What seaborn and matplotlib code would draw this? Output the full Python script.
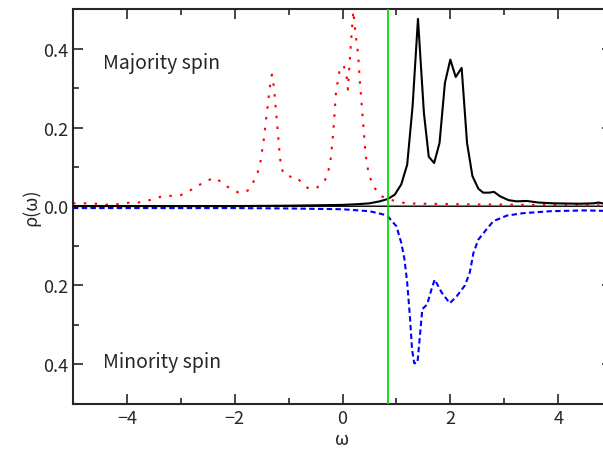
import numpy as np
import pandas as pd
import matplotlib
matplotlib.use('Agg')
from matplotlib import pyplot as plt
import matplotlib.ticker as ticker
import seaborn as sns

# majority spin, dotted red curve
omega_red = [-5.0, -4.89, -4.73, -4.57, -4.42, -4.26, -4.11, -3.94, -3.79, -3.63, -3.48,
             -3.32, -3.17, -3.0, -2.86, -2.70, -2.55, -2.44, -2.34, -2.19, -2.05, -1.92,
             -1.76, -1.66, -1.58, -1.52, -1.46, -1.40, -1.35, -1.31, -1.27, -1.22, -1.17,
             -1.14, -1.08, -0.95, -0.86, -0.75, -0.63, -0.48, -0.35, -0.28, -0.22, -0.17,
             -0.12, -0.06, -0.02, 0.02, 0.07, 0.10, 0.12, 0.16, 0.20, 0.24, 0.29, 0.32,
             0.36, 0.39, 0.43, 0.48, 0.52, 0.60, 0.72, 0.87, 1.03, 1.18, 1.5, 2.0, 2.5,
             3.0, 3.5, 4.0, 4.5, 4.85]
rho_red = [0.008, 0.008, 0.008, 0.007, 0.005, 0.004, 0.007, 0.010, 0.010, 0.014, 0.020,
           0.027, 0.027, 0.029, 0.037, 0.053, 0.060, 0.070, 0.072, 0.053, 0.045, 0.034,
           0.040, 0.060, 0.083, 0.115, 0.170, 0.240, 0.300, 0.334, 0.300, 0.220, 0.140,
           0.100, 0.080, 0.075, 0.075, 0.060, 0.045, 0.047, 0.062, 0.077, 0.120, 0.190,
           0.290, 0.340, 0.355, 0.357, 0.337, 0.296, 0.340, 0.420, 0.495, 0.440, 0.385,
           0.320, 0.250, 0.200, 0.130, 0.087, 0.070, 0.046, 0.026, 0.018, 0.012, 0.008,
           0.007, 0.006, 0.005, 0.005, 0.004, 0.004, 0.003, 0.003]

# majority spin, solid black curve
omega_black = [-5.0, -3.0, -2.0, -1.0, 0.0, 0.3, 0.5, 0.69, 0.84, 0.97, 1.09, 1.20, 1.30,
               1.40, 1.51, 1.60, 1.70, 1.80, 1.90, 2.00, 2.10, 2.21, 2.31, 2.41, 2.52,
               2.61, 2.72, 2.81, 2.92, 3.08, 3.23, 3.42, 3.63, 3.91, 4.41, 4.66, 4.75, 4.85]
rho_black = [0.001, 0.001, 0.001, 0.002, 0.004, 0.006, 0.008, 0.013, 0.019, 0.030, 0.056,
             0.106, 0.254, 0.475, 0.237, 0.126, 0.110, 0.161, 0.313, 0.372, 0.328, 0.351,
             0.161, 0.077, 0.045, 0.035, 0.035, 0.037, 0.026, 0.016, 0.013, 0.014, 0.010,
             0.008, 0.007, 0.008, 0.010, 0.007]

# minority spin, dashed blue curve (drawn downward)
omega_blue = [-5.0, -3.0, -2.0, -1.0, 0.0, 0.5, 0.75, 0.84, 1.00, 1.09, 1.15, 1.20, 1.25,
              1.29, 1.33, 1.39, 1.43, 1.48, 1.57, 1.65, 1.71, 1.84, 1.99, 2.12, 2.27,
              2.36, 2.43, 2.52, 2.67, 2.80, 3.05, 3.35, 3.85, 4.47, 4.85]
rho_blue = [-0.004, -0.004, -0.004, -0.005, -0.007, -0.012, -0.020, -0.025, -0.050, -0.092,
            -0.134, -0.193, -0.278, -0.362, -0.397, -0.396, -0.337, -0.260, -0.248, -0.210,
            -0.185, -0.218, -0.245, -0.227, -0.200, -0.168, -0.117, -0.084, -0.058, -0.037,
            -0.023, -0.017, -0.012, -0.010, -0.011]

fermi_level = 0.84

sns.set_style('ticks')
plt.rcParams['font.family'] = ['Noto Sans CJK JP', 'DejaVu Sans']
plt.rcParams['axes.unicode_minus'] = True

fig = plt.figure(figsize=(6.03, 4.56), dpi=100)
ax = fig.add_axes([0.121, 0.112, 0.894, 0.866])

ax.axhline(0.0, color='#808080', linewidth=1.5, zorder=1)
ax.axhline(0.0, color='black', linewidth=0.6, zorder=1)

red = pd.DataFrame({'omega': omega_red, 'rho': rho_red})
black = pd.DataFrame({'omega': omega_black, 'rho': rho_black})
blue = pd.DataFrame({'omega': omega_blue, 'rho': rho_blue})

sns.lineplot(data=black, x='omega', y='rho', ax=ax, color='black', linewidth=1.5,
             estimator=None, sort=False, zorder=3)
sns.lineplot(data=red, x='omega', y='rho', ax=ax, color='red', linewidth=1.5,
             estimator=None, sort=False, zorder=2)
ax.get_lines()[-1].set_dashes([1.2, 4.0])
sns.lineplot(data=blue, x='omega', y='rho', ax=ax, color='blue', linewidth=1.5,
             estimator=None, sort=False, zorder=2)
ax.get_lines()[-1].set_dashes([2.6, 1.6])

ax.axvline(fermi_level, color='#00e000', linewidth=1.3, zorder=4)

ax.set_xlim(-5.0, 5.0)
ax.set_ylim(-0.5, 0.5)
ax.xaxis.set_major_locator(ticker.MultipleLocator(2))
ax.xaxis.set_minor_locator(ticker.MultipleLocator(1))
ax.yaxis.set_major_locator(ticker.MultipleLocator(0.2))
ax.yaxis.set_minor_locator(ticker.MultipleLocator(0.1))
ax.yaxis.set_major_formatter(ticker.FuncFormatter(lambda v, p: '%.1f' % abs(v)))
ax.tick_params(which='both', direction='in', top=True, right=True, labelsize=13, width=1.2)
ax.tick_params(which='major', length=7)
ax.tick_params(which='minor', length=4)
for s in ax.spines.values():
    s.set_linewidth(1.5)

ax.set_xlabel('ω', fontsize=13, labelpad=2)
ax.set_ylabel('ρ(ω)', fontsize=13, labelpad=2)

ax.text(-4.45, 0.365, 'Majority spin', fontsize=14, va='center', ha='left')
ax.text(-4.45, -0.392, 'Minority spin', fontsize=14, va='center', ha='left')

fig.savefig('out.png', dpi=100)
